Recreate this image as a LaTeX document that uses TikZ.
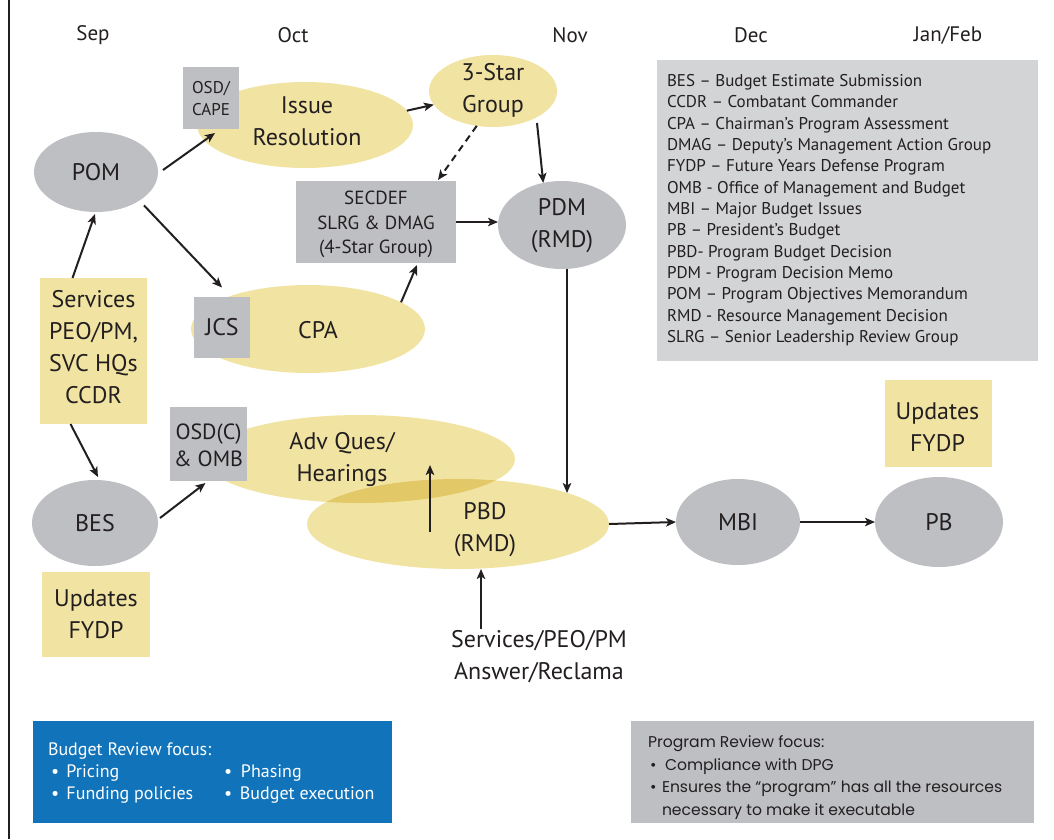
\documentclass[tikz,border=0pt]{standalone}
\usepackage{fontspec}
\setmainfont{PT Sans}
\newfontfamily\focfont{Poppins}
\usetikzlibrary{shapes.geometric,arrows.meta}
\definecolor{ylw}{HTML}{F1E4A3}
\definecolor{ylwdk}{HTML}{E2C866}
\definecolor{gry}{HTML}{BEBFC3}
\definecolor{lgry}{HTML}{D3D4D6}
\definecolor{blu}{HTML}{1173BA}
\definecolor{ink}{HTML}{231F20}
\newcommand\fBig{\fontsize{24}{32}\selectfont}
\newcommand\fMon{\fontsize{21}{25}\selectfont}
\newcommand\fMid{\fontsize{19}{24.5}\selectfont}
\newcommand\fBox{\fontsize{17}{22}\selectfont}
\newcommand\fLeg{\fontsize{17}{21.33}\selectfont}
\newcommand\fFoc{\fontsize{18}{22}\selectfont}
\newcommand\fPrf{\focfont\fontsize{15.6}{22}\selectfont}
\begin{document}
\begin{tikzpicture}[x=1pt,y=-1pt,
  every node/.style={inner sep=0pt, outer sep=0pt, align=center, text=ink},
  oval/.style n args={3}{ellipse, fill=#1, minimum width=#2 pt, minimum height=#3 pt},
  box/.style n args={3}{rectangle, fill=#1, minimum width=#2 pt, minimum height=#3 pt},
  arr/.style={draw=ink, line width=2pt, -{Stealth[length=10pt,width=8.5pt,inset=2.5pt]}},
  lbl/.style={font=\fBig},
  month/.style={font=\fMon},
  btxt/.style={font=\fFoc, text=white, anchor=base west},
  ptxt/.style={font=\fPrf, anchor=base west}
]
\useasboundingbox[fill=white] (0,0) rectangle (1054,839);
\draw[ink, line width=2.5pt] (9,0) -- (9,839);

% months
\node[month] (msep) at (93,35) {Sep};
\node[month] (moct) at (293,35) {Oct};
\node[month] (mnov) at (570,35) {Nov};
\node[month] (mdec) at (751,35) {Dec};
\node[month] (mjan) at (948,35) {Jan/Feb};

% shapes
\node[oval={gry}{124}{80}] (pom) at (96,172) {};
\node[oval={ylw}{216}{86}] (issue) at (305,125) {};
\node[box={gry}{56}{62}] (osdcape) at (211,98) {};
\node[oval={ylw}{128}{72}] (threestar) at (493,91) {};
\node[box={gry}{160}{82}] (secdef) at (376,222) {};
\node[oval={gry}{128}{88}] (pdm) at (562,225) {};
\node[oval={ylw}{234}{88}] (cpa) at (308,329) {};
\node[box={gry}{56}{61}] (jcs) at (222,327) {};
\node[box={ylw}{107}{146}] (services) at (93.5,351) {};
\node[oval={gry}{126}{86}] (bes) at (95,523) {};
\node[box={ylw}{108}{85}] (upd1) at (96,614.5) {};
\node[oval={ylw}{310}{88}] (adv) at (360,459) {};
\node[oval={ylw}{302}{90}] (pbd) at (458,524) {};
\begin{scope}
  \clip (360,459) ellipse [x radius=155pt, y radius=44pt];
  \fill[ylwdk] (458,524) ellipse [x radius=151pt, y radius=45pt];
\end{scope}
\node[box={gry}{77}{74}] (osdc) at (208.5,444) {};
\node[oval={gry}{124}{86}] (mbi) at (738,522) {};
\node[oval={gry}{128}{90}] (pb) at (939,522) {};
\node[box={ylw}{107}{87}] (upd2) at (938.5,423.5) {};
\node[box={lgry}{381}{301}, anchor=north west] (legend) at (657,60) {};
\node[box={blu}{359}{102}, anchor=north west] (brf) at (33,721) {};
\node[box={gry}{403}{102}, anchor=north west] (prf) at (631,721) {};

% texts
\node[lbl] (tpom) at (96,172) {POM};
\node[lbl] (tissue) at (307,121) {Issue\\Resolution};
\node[font=\fBox] (tosdcape) at (211,99) {OSD/\\CAPE};
\node[lbl] (tthree) at (493,90) {3-Star\\Group};
\node[font=\fMid] (tsecdef) at (376,224.5) {SECDEF\\SLRG \& DMAG\\(4-Star Group)};
\node[lbl] (tpdm) at (562,226) {PDM\\(RMD)};
\node[lbl] (tcpa) at (318,330) {CPA};
\node[lbl] (tjcs) at (222,327) {JCS};
\node[lbl] (tservices) at (93.5,347) {Services\\PEO/PM,\\SVC HQs\\CCDR};
\node[lbl] (tbes) at (95,523) {BES};
\node[lbl] (tupd1) at (96,614) {Updates\\FYDP};
\node[font=\fontsize{22}{27}\selectfont] (tosdc) at (208.5,445) {OSD(C)\\\& OMB};
\node[lbl] (tadv) at (342,459) {Adv Ques/\\Hearings};
\node[lbl] (tpbd) at (485,530) {PBD\\(RMD)};
\node[lbl] (tmbi) at (738,522) {MBI};
\node[lbl] (tpb) at (939,522) {PB};
\node[lbl] (tupd2) at (937.5,427) {Updates\\FYDP};
\node[lbl] (reclama) at (539,657) {Services/PEO/PM\\Answer/Reclama};

\node[font=\fLeg, align=left, anchor=north west] (tlegend) at (667,74.5) {%
BES – Budget Estimate Submission\\
CCDR – Combatant Commander\\
CPA – Chairman’s Program Assessment\\
DMAG – Deputy’s Management Action Group\\
FYDP – Future Years Defense Program\\
OMB - Office of Management and Budget\\
MBI – Major Budget Issues\\
PB – President’s Budget\\
PBD- Program Budget Decision\\
PDM - Program Decision Memo\\
POM – Program Objectives Memorandum\\
RMD - Resource Management Decision\\
SLRG – Senior Leadership Review Group};

\node[btxt] (brf0) at (48,755) {Budget Review focus:};
\node[btxt] (brf1) at (51,777) {\makebox[15.5pt][l]{\textbullet}Pricing};
\node[btxt] (brf2) at (51,799) {\makebox[15.5pt][l]{\textbullet}Funding policies};
\node[btxt] (brf3) at (224,777) {\makebox[17pt][l]{\textbullet}Phasing};
\node[btxt] (brf4) at (224,799) {\makebox[16pt][l]{\textbullet}Budget execution};

\node[ptxt] (prf0) at (648,747) {Program Review focus:};
\node[ptxt] (prf1) at (650,770) {\makebox[15pt][l]{\textbullet}Compliance with DPG};
\node[ptxt] (prf2) at (650,792.5) {\makebox[12pt][l]{\textbullet}Ensures the “program” has all the resources};
\node[ptxt] (prf3) at (662,815) {necessary to make it executable};

% connectors
\draw[arr] ([shift={(5,-2)}]pom.east) -- ([shift={(4,4)}]osdcape.south);
\draw[arr] (issue.8) -- (threestar.193);
\draw[arr, dash pattern=on 7pt off 5pt] (threestar.245) -- ([shift={(-18,-1)}]secdef.north east);
\draw[arr] ([shift={(44,32)}]threestar.center) -- (pdm.114);
\draw[arr] (secdef.east) -- (secdef.east -| pdm.west);
\draw[arr] (cpa.16) -- ([shift={(-39,2)}]secdef.south east);
\draw[arr] ([shift={(6,4)}]pom.-35) -- ([shift={(0,-9)}]jcs.north);
\draw[arr] ([shift={(-21,0)}]services.north) -- ([shift={(-1,2)}]pom.south);
\draw[arr] ([shift={(-23,0)}]services.south) -- ([shift={(3,-3)}]bes.north);
\draw[arr] ([shift={(2,-5)}]bes.east) -- ([shift={(-3,2)}]osdc.south);
\draw[arr] ([shift={(-28,8)}]pbd.center) -- ([shift={(70,6)}]adv.center);
\draw[arr] ([shift={(5,0)}]pdm.south) -- ([shift={(109,-31)}]pbd.center);
\draw[arr] (pbd.east) -- (mbi.west);
\draw[arr] (mbi.east) -- (pb.west);
\draw[arr] ([shift={(-58,-2)}]reclama.north) -- ([shift={(23,45)}]pbd.center);
\end{tikzpicture}
\end{document}
